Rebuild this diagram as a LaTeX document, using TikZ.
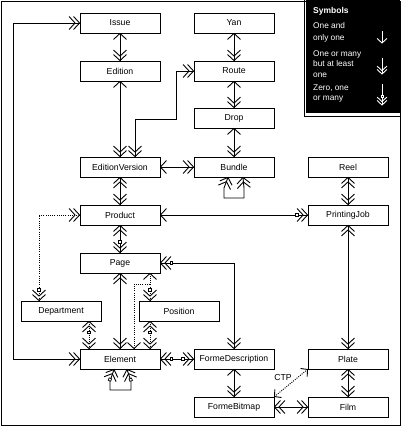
\documentclass[tikz,border=0pt]{standalone}
\usepackage{fontspec}
\setmainfont{Liberation Sans}
\begin{document}
\begin{tikzpicture}[x=1pt,y=-1pt,
  ent/.style={draw, line width=0.9pt, minimum width=80pt, minimum height=20pt, inner sep=0pt, font=\fontsize{8.7}{10}\selectfont},
  conn/.style={line width=0.9pt},
  dot/.style={line width=0.9pt, dash pattern=on 1pt off 1.2pt},
  legt/.style={white, anchor=west, inner sep=0pt, font=\fontsize{8.3}{10}\selectfont},
  pics/one/.style={code={\draw[line width=0.9pt,solid] (-6,-6.5) -- (0,0) -- (-6,6.5);}},
  pics/many/.style={code={\draw[line width=0.9pt,solid] (-6,-6.5) -- (0,0) -- (-6,6.5) (-10.5,-6.5) -- (-4.5,0) -- (-10.5,6.5);}},
  pics/zmany/.style={code={\draw[line width=0.9pt,solid] (-6,-6.5) -- (0,0) -- (-6,6.5) (-10.5,-6.5) -- (-4.5,0) -- (-10.5,6.5);
     \draw[line width=0.7pt,solid,fill=#1] (-12.2,-1.3) rectangle (-9.6,1.3);}},
  pics/zmany/.default=white,
]
\useasboundingbox (0,0) rectangle (401,427);
\draw[line width=0.9pt] (1,1) rectangle (400,425);

% entities
\node[ent] (issue) at (120,23) {Issue};
\node[ent] (yan) at (234,23) {Yan};
\node[ent] (edition) at (120,71) {Edition};
\node[ent] (route) at (234,71) {Route};
\node[ent] (drop) at (234,118) {Drop};
\node[ent] (ev) at (120,167) {EditionVersion};
\node[ent] (bundle) at (234,167) {Bundle};
\node[ent] (reel) at (348,167) {Reel};
\node[ent] (product) at (120,215) {Product};
\node[ent] (pj) at (348,215) {PrintingJob};
\node[ent] (page) at (120,263) {Page};
\node[ent] (dept) at (61,311) {Department};
\node[ent] (position) at (179,311) {Position};
\node[ent] (element) at (120,359) {Element};
\node[ent] (fd) at (234,359) {FormeDescription};
\node[ent] (plate) at (348,359) {Plate};
\node[ent] (fb) at (234,407) {FormeBitmap};
\node[ent] (film) at (348,407) {Film};

% Issue - Edition
\draw[conn] (issue) -- (edition);
\pic[rotate=90] at (issue.south) {one};
\pic[rotate=-90] at (edition.north) {many};
% Edition - EditionVersion
\draw[conn] (edition) -- (ev);
\pic[rotate=90] at (edition.south) {one};
\pic[rotate=-90] at (ev.north) {many};
% Route - EditionVersion
\draw[conn] (route.west) -| (176,119) -| ([xshift=15pt]ev.north);
\pic at (route.west) {many};
\pic[rotate=-90] at ([xshift=15pt]ev.north) {many};
% Yan - Route
\draw[conn] (yan) -- (route);
\pic[rotate=90] at (yan.south) {one};
\pic[rotate=-90] at (route.north) {many};
% Route - Drop
\draw[conn] (route) -- (drop);
\pic[rotate=90] at (route.south) {one};
\pic[rotate=-90] at (drop.north) {many};
% Drop - Bundle
\draw[conn] (drop) -- (bundle);
\pic[rotate=90] at (drop.south) {one};
\pic[rotate=-90] at (bundle.north) {many};
% EditionVersion - Bundle
\draw[conn] (ev) -- (bundle);
\pic[rotate=180] at (ev.east) {one};
\pic at (bundle.west) {many};
% Bundle loop
\draw[conn] ([xshift=-6pt]bundle.south) -- (224,188) -- (224,198) -- (244,198) -- (244,188) -- ([xshift=9pt]bundle.south);
\pic[rotate=70] at ([xshift=-6pt]bundle.south) {many};
\pic[rotate=95] at ([xshift=9pt]bundle.south) {many};
% EditionVersion - Product
\draw[conn] (ev) -- (product);
\pic[rotate=90] at (ev.south) {many};
\pic[rotate=-90] at (product.north) {many};
% Product - PrintingJob
\draw[conn] (product) -- (pj);
\pic[rotate=180] at (product.east) {one};
\pic at (pj.west) {zmany};
% Reel - PrintingJob
\draw[conn] (reel) -- (pj);
\pic[rotate=90] at (reel.south) {many};
\pic[rotate=-90] at (pj.north) {many};
% Product - Page
\draw[conn] (product) -- (page);
\pic[rotate=90] at (product.south) {many};
\pic[rotate=-90] at (page.north) {zmany};
% Product - Department
\draw[dot] (product.west) -| ([xshift=-22pt]dept.north);
\pic at (product.west) {many};
\pic[rotate=-90] at ([xshift=-22pt]dept.north) {zmany};
% Page - FormeDescription
\draw[conn] (page.east) -| (fd.north);
\pic[rotate=180] at (page.east) {zmany};
\pic[rotate=-90] at (fd.north) {many};
% Page - Element
\draw[conn] (page) -- (element);
\pic[rotate=90] at (page.south) {many};
\pic[rotate=-90] at (element.north) {many};
% Page - Position
\draw[dot] ([xshift=30pt]page.south) -- ([xshift=-29pt]position.north);
\pic[rotate=90] at ([xshift=30pt]page.south) {one};
\pic[rotate=-90] at ([xshift=-29pt]position.north) {zmany};
\coordinate (br) at ([xshift=30pt,yshift=-11pt]page.south);
\draw[dot] (br) -| ([xshift=14pt]element.north);
\pic[rotate=-90] at ([xshift=14pt]element.north) {one};
% Department - Element
\draw[dot] ([xshift=28pt]dept.south) -- ([xshift=-31pt]element.north);
\pic[rotate=90] at ([xshift=28pt]dept.south) {zmany};
\pic[rotate=-90] at ([xshift=-31pt]element.north) {many};
% Position - Element
\draw[dot] ([xshift=-29pt]position.south) -- ([xshift=30pt]element.north);
\pic[rotate=90] at ([xshift=-29pt]position.south) {zmany};
\pic[rotate=-90] at ([xshift=30pt]element.north) {many};
% Element - FormeDescription
\draw[conn] (element) -- (fd);
\pic[rotate=180] at (element.east) {zmany};
\pic at (fd.west) {zmany};
% Element - Issue
\draw[conn] (element.west) -| (13,23) -- (issue.west);
\pic at (element.west) {many};
\pic at (issue.west) {many};
% Element loop
\draw[conn] ([xshift=-6pt]element.south) -- (110,381) -- (110,390) -- (131,390) -- (131,381) -- ([xshift=7pt]element.south);
\pic[rotate=68] at ([xshift=-6pt]element.south) {zmany};
\pic[rotate=110] at ([xshift=7pt]element.south) {zmany};
% PrintingJob - Plate
\draw[conn] (pj) -- (plate);
\pic[rotate=90] at (pj.south) {many};
\pic[rotate=-90] at (plate.north) {many};
% Plate - Film
\draw[conn] (plate) -- (film);
\pic[rotate=90] at (plate.south) {many};
\pic[rotate=-90] at (film.north) {many};
% FormeBitmap - Film
\draw[conn] (fb) -- (film);
\pic[rotate=180] at (fb.east) {many};
\pic at (film.west) {many};
% FormeDescription - FormeBitmap
\draw[conn] (fd) -- (fb);
\pic[rotate=90] at (fd.south) {one};
\pic[rotate=-90] at (fb.north) {many};
% CTP
\draw[dot] (fb.north east) -- (plate.south west)
  node[pos=0.5, xshift=-8pt, yshift=5pt, inner sep=0pt, font=\fontsize{8.7}{10}\selectfont] (ctp) {CTP};
\pic[rotate=39.5, scale=0.8] at (plate.south west) {one};
\pic[rotate=219.5, scale=0.8] at (fb.north east) {one};

% legend
\fill (306,0) rectangle (400,113.5);
\draw[line width=0.8pt] (304.5,0) -- (304.5,116) -- (400,116);
\node[legt, font=\fontsize{8.5}{10}\selectfont\bfseries] (lsym) at (313,11) {Symbols};
\node[legt] (l1) at (313,26) {One and};
\node[legt] (l2) at (313,38) {only one};
\node[legt] (l3) at (313,54) {One or many};
\node[legt] (l4) at (313,64) {but at least};
\node[legt] (l5) at (313,75) {one};
\node[legt] (l6) at (313,88) {Zero, one};
\node[legt] (l7) at (313,99) {or many};
\coordinate (a1) at (382,31); \coordinate (b1) at (382,43);
\coordinate (a2) at (382,58); \coordinate (b2) at (382,74);
\coordinate (a3) at (382,84); \coordinate (b3) at (382,105);
\draw[white, conn] (a1) -- (b1);
\draw[white, conn] (a2) -- (b2);
\draw[white, conn] (a3) -- (b3);
\pic[white, rotate=-90, scale=0.75] at (b1) {one};
\pic[white, rotate=-90, scale=0.75] at (b2) {many};
\pic[white, rotate=-90, scale=0.75] at (b3) {zmany=black};
\end{tikzpicture}
\end{document}
